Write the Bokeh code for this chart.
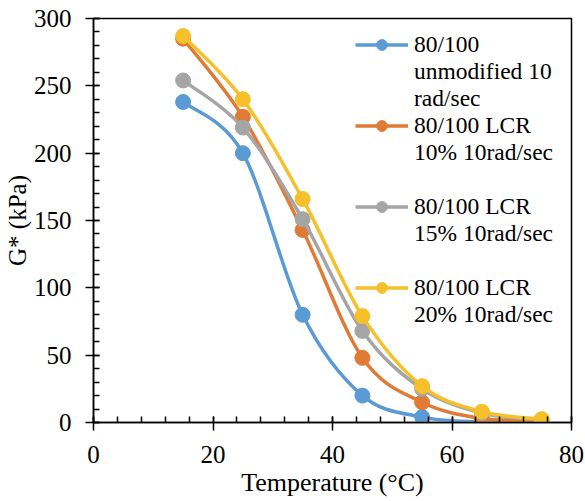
from bokeh.plotting import figure
from bokeh.models import Range1d, FixedTicker, Legend, LegendItem
from bokeh.embed import file_html
from bokeh.resources import INLINE
import numpy as np

temps = [15, 25, 35, 45, 55, 65, 75]
g_unmod = [238, 200, 80, 20, 4, 0.5, 0.2]
g_lcr10 = [285, 227, 143, 48, 15, 3, 1.5]
g_lcr15 = [254, 219, 151, 68, 25, 7, 2]
g_lcr20 = [287, 240, 166, 79, 27, 8, 2.5]

# legend text: first line of each entry goes next to the glyph, the rest follow below
label_lines = [
    ["80/100", "unmodified 10", "rad/sec"],
    ["80/100 LCR", "10% 10rad/sec"],
    ["80/100 LCR", "15% 10rad/sec"],
    ["80/100 LCR", "20% 10rad/sec"],
]
blank_after = [False, True, True, False]
colors = ["#5B9BD5", "#E07B35", "#A5A5A5", "#F5C02A"]
series = [g_unmod, g_lcr10, g_lcr15, g_lcr20]

x_ticks = [0, 20, 40, 60, 80]
x_minor = [v for v in range(0, 81, 4)]
y_ticks = [0, 50, 100, 150, 200, 250, 300]
y_minor = [v for v in range(0, 301, 10)]

FONT = "Liberation Serif"

p = figure(width=584, height=500, output_backend="svg", toolbar_location=None,
           x_range=Range1d(0, 80), y_range=Range1d(0, 300),
           min_border_left=91, min_border_right=13, min_border_top=18, min_border_bottom=78)
p.grid.visible = False
p.outline_line_color = "black"
p.outline_line_width = 1.5
p.background_fill_color = "white"
p.border_fill_color = "white"

for ax, tk, mn in ((p.xaxis[0], x_ticks, x_minor), (p.yaxis[0], y_ticks, y_minor)):
    ax.ticker = FixedTicker(ticks=tk, minor_ticks=mn)
    ax.axis_line_color = "black"
    ax.axis_line_width = 1.5
    ax.major_tick_line_color = "black"
    ax.major_tick_line_width = 1.5
    ax.minor_tick_line_color = "black"
    ax.minor_tick_line_width = 1.5
    ax.major_tick_out = 8
    ax.major_tick_in = 6
    ax.minor_tick_out = 0
    ax.minor_tick_in = 6
    ax.major_label_text_font = FONT
    ax.major_label_text_font_size = "25px"
    ax.major_label_text_color = "black"
    ax.axis_label_text_font = FONT
    ax.axis_label_text_font_style = "normal"
    ax.axis_label_text_color = "black"

p.xaxis.axis_label = "Temperature (°C)"
p.yaxis.axis_label = "G* (kPa)"
p.xaxis.axis_label_text_font_size = "26px"
p.yaxis.axis_label_text_font_size = "25px"
p.xaxis.major_label_standoff = 15
p.yaxis.major_label_standoff = 14
p.xaxis.axis_label_standoff = 2
p.yaxis.axis_label_standoff = 0

items = []
for vals, col, lines, blank in zip(series, colors, label_lines, blank_after):
    x = np.array(temps, dtype=float)
    y = np.array(vals, dtype=float)
    xp = np.concatenate([[x[0]], x, [x[-1]]])
    yp = np.concatenate([[y[0]], y, [y[-1]]])
    cx0 = x[:-1] + (xp[2:-1] - xp[:-3]) / 6
    cy0 = y[:-1] + (yp[2:-1] - yp[:-3]) / 6
    cx1 = x[1:] - (xp[3:] - xp[1:-2]) / 6
    cy1 = y[1:] - (yp[3:] - yp[1:-2]) / 6
    r1 = p.bezier(x0=x[:-1], y0=y[:-1], x1=x[1:], y1=y[1:],
                  cx0=cx0, cy0=cy0, cx1=cx1, cy1=cy1,
                  line_color=col, line_width=3.5)
    r2 = p.scatter(temps, vals, size=15, fill_color=col, line_color=col)
    items.append(LegendItem(label=lines[0], renderers=[r1, r2]))
    for extra in lines[1:]:
        items.append(LegendItem(label=extra, renderers=[]))
    if blank:
        items.append(LegendItem(label=" ", renderers=[]))

legend = Legend(items=items, location=(262, 94), glyph_width=53, glyph_height=27,
                label_height=27, label_standoff=6, padding=0, margin=0, spacing=0,
                border_line_alpha=0, background_fill_alpha=0,
                label_text_font=FONT, label_text_font_size="23.5px",
                label_text_color="black")
p.add_layout(legend)

open("out.html", "w").write(file_html(p, INLINE))
